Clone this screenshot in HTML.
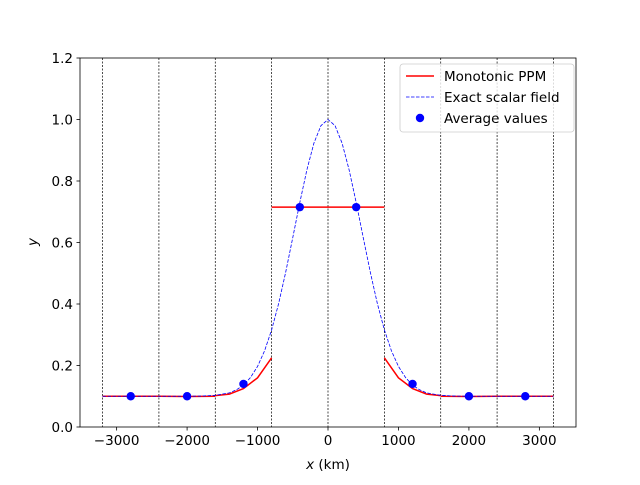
<!DOCTYPE html>
<html><head><meta charset="utf-8"><style>
body{margin:0;background:#fff}
svg text{font-family:"DejaVu Sans","Liberation Sans",sans-serif;font-size:13.5px;fill:#000}
</style></head><body>
<svg id="chart" width="640" height="480" xmlns="http://www.w3.org/2000/svg">
<rect width="640" height="480" fill="#fff"/>
<g id="plot"></g>
</svg>
<script>
const xTicks=[-3000,-2000,-1000,0,1000,2000,3000];
const yTicks=[0.0,0.2,0.4,0.6,0.8,1.0,1.2];
const yTickLabels=["0.0","0.2","0.4","0.6","0.8","1.0","1.2"];
const cellEdges=[-3200,-2400,-1600,-800,0,800,1600,2400,3200];
const exactX=[-3200,-2800,-2400,-2000,-1800,-1600,-1400,-1300,-1200,-1100,-1000,-900,-800,-700,-600,-500,-400,-300,-200,-100,0,100,200,300,400,500,600,700,800,900,1000,1100,1200,1300,1400,1600,1800,2000,2400,2800,3200];
const exactY=[0.1,0.1,0.1,0.1,0.1006,0.103,0.111,0.121,0.136,0.161,0.197,0.248,0.316,0.402,0.504,0.616,0.730,0.836,0.923,0.980,1.0,0.980,0.923,0.836,0.730,0.616,0.504,0.402,0.316,0.248,0.197,0.161,0.136,0.121,0.111,0.103,0.1006,0.1,0.1,0.1,0.1];
const ppmSegX=[
 [-3200,-2400],[-2400,-2000,-1600],[-1600,-1400,-1200,-1000,-800],[-800,800],
 [800,1000,1200,1400,1600],[1600,2000,2400],[2400,3200]];
const ppmSegY=[
 [0.1,0.1],[0.1,0.099,0.1],[0.102,0.107,0.125,0.16,0.225],[0.715,0.715],
 [0.225,0.16,0.125,0.107,0.102],[0.1,0.099,0.1],[0.1,0.1]];
const avgX=[-2800,-2000,-1200,-400,400,1200,2000,2800];
const avgY=[0.1,0.1,0.14,0.715,0.715,0.14,0.1,0.1];

const L=80,R=576,T=58,B=427;
const X=v=>L+(v+3520)/7040*(R-L);
const Y=v=>B-v/1.2*(B-T);
const NS="http://www.w3.org/2000/svg";
const g=document.getElementById('plot');
function mk(t,a,p){const e=document.createElementNS(NS,t);for(const k in a)e.setAttribute(k,a[k]);(p||g).appendChild(e);return e;}

for(const c of cellEdges){
 const e=mk('line',{x1:X(c),x2:X(c),y1:T,y2:B,stroke:'#000','stroke-width':0.7,'stroke-dasharray':'2,1.5'});
 
 
}
for(let i=0;i<ppmSegX.length;i++){
 const pts=ppmSegX[i].map((x,j)=>X(x)+','+Y(ppmSegY[i][j])).join(' ');
 const e=mk('polyline',{points:pts,fill:'none',stroke:'#ff0000','stroke-width':1.5});
 
 
}
{
 const pts=exactX.map((x,j)=>X(x)+','+Y(exactY[j])).join(' ');
 const e=mk('polyline',{points:pts,fill:'none',stroke:'#0000ff','stroke-width':0.8,'stroke-dasharray':'3.5,1.5'});
 
 
}
for(let i=0;i<avgX.length;i++){
 const e=mk('circle',{cx:X(avgX[i]),cy:Y(avgY[i]),r:4.2,fill:'#0000ff'});
 
 
}
const fr=mk('rect',{x:L,y:T,width:R-L,height:B-T,fill:'none',stroke:'#000','stroke-width':0.8});


for(const t of xTicks){
 mk('line',{x1:X(t),x2:X(t),y1:B,y2:B+3.5,stroke:'#000','stroke-width':0.8});
 const e=mk('text',{x:X(t),y:B+18,'text-anchor':'middle'});e.textContent=(t<0?'\u2212'+(-t):t);
 
 
}
yTicks.forEach((t,i)=>{
 mk('line',{x1:L-3.5,x2:L,y1:Y(t),y2:Y(t),stroke:'#000','stroke-width':0.8});
 const e=mk('text',{x:L-7,y:Y(t)+5,'text-anchor':'end'});e.textContent=yTickLabels[i];
 
 
});
</script>
<svg style="position:absolute;left:0;top:0" width="640" height="480">
<text x="328" y="469" text-anchor="middle"><tspan font-style="italic">x</tspan> (km)</text>
<text x="37" y="242" text-anchor="middle" font-style="italic" transform="rotate(-90 37 242)">y</text>
<g>
<rect x="400" y="64" width="174" height="68" rx="3" fill="#fff" fill-opacity="0.8" stroke="#ccc" stroke-width="0.8"/>
<line x1="406" x2="434" y1="76" y2="76" stroke="#f00" stroke-width="1.5"/>
<text x="444" y="81">Monotonic PPM</text>
<line x1="406" x2="434" y1="97" y2="97" stroke="#00f" stroke-width="0.8" stroke-dasharray="3.5,1.5"/>
<text x="444" y="102">Exact scalar field</text>
<circle cx="420" cy="118" r="4.2" fill="#00f"/>
<text x="444" y="123">Average values</text>
</g>
</svg>
</body></html>
